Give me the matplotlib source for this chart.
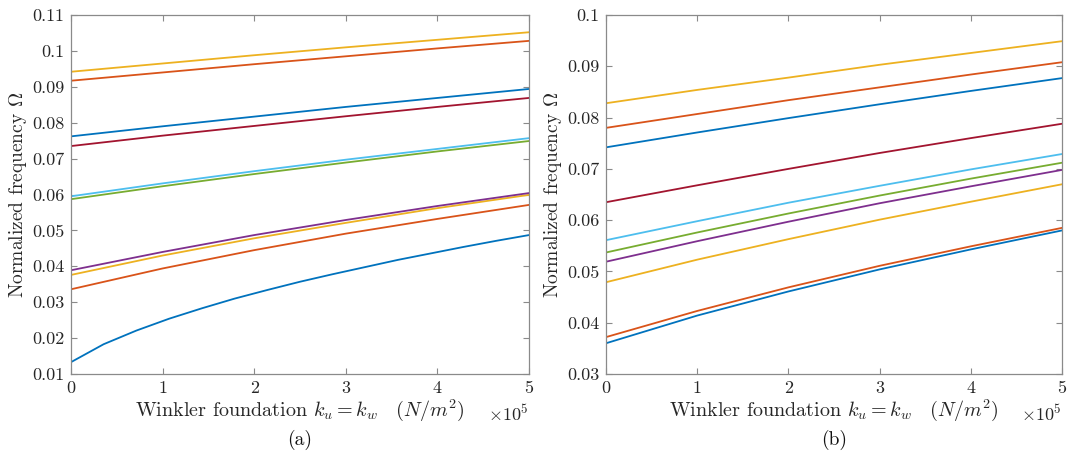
import matplotlib
matplotlib.use("Agg")
import matplotlib.pyplot as plt

plt.rcParams['font.family'] = 'serif'
plt.rcParams['font.serif'] = ['cmr10', 'DejaVu Serif']
plt.rcParams['mathtext.fontset'] = 'cm'
plt.rcParams['axes.formatter.use_mathtext'] = True

# MATLAB default colour order
matlab_colors = ['#0072BD', '#D95319', '#EDB120', '#7E2F8E',
                 '#77AC30', '#4DBEEE', '#A2142F']

# foundation stiffness, in units of 1e5 N/m^2
k_fine = [0, 0.357, 0.714, 1.071, 1.429, 1.786, 2.143, 2.5,
          2.857, 3.214, 3.571, 3.929, 4.286, 4.643, 5]
k_coarse = [0, 1, 2, 3, 4, 5]

# panel (a): lowest mode sampled finely, the rest at integer steps
a_mode1 = [0.0133, 0.0183, 0.0221, 0.0254, 0.0283, 0.0310, 0.0334, 0.0357,
           0.0378, 0.0398, 0.0418, 0.0436, 0.0454, 0.0471, 0.0487]
a_modes = [
    [0.0336, 0.0394, 0.0445, 0.0491, 0.0532, 0.0571],
    [0.0376, 0.0430, 0.0478, 0.0521, 0.0562, 0.0599],
    [0.0389, 0.0440, 0.0487, 0.0529, 0.0568, 0.0604],
    [0.0587, 0.0623, 0.0657, 0.0689, 0.0720, 0.0749],
    [0.0595, 0.0631, 0.0665, 0.0697, 0.0727, 0.0757],
    [0.0735, 0.0764, 0.0791, 0.0818, 0.0844, 0.0869],
    [0.0762, 0.0790, 0.0817, 0.0844, 0.0869, 0.0894],
    [0.0917, 0.0940, 0.0963, 0.0985, 0.1007, 0.1028],
    [0.0942, 0.0965, 0.0988, 0.1010, 0.1031, 0.1052],
]

# panel (b)
b_modes = [
    [0.0360, 0.0414, 0.0461, 0.0504, 0.0543, 0.0580],
    [0.0372, 0.0423, 0.0469, 0.0511, 0.0549, 0.0585],
    [0.0479, 0.0523, 0.0563, 0.0601, 0.0636, 0.0670],
    [0.0519, 0.0559, 0.0597, 0.0633, 0.0666, 0.0698],
    [0.0537, 0.0576, 0.0613, 0.0648, 0.0681, 0.0712],
    [0.0561, 0.0598, 0.0634, 0.0667, 0.0699, 0.0729],
    [0.0635, 0.0668, 0.0700, 0.0731, 0.0760, 0.0788],
    [0.0742, 0.0771, 0.0799, 0.0826, 0.0852, 0.0877],
    [0.0780, 0.0807, 0.0834, 0.0859, 0.0884, 0.0908],
    [0.0828, 0.0854, 0.0878, 0.0903, 0.0926, 0.0949],
]

a_yticks = [0.01, 0.02, 0.03, 0.04, 0.05, 0.06, 0.07, 0.08, 0.09, 0.1, 0.11]
a_ylabels = ['0.01', '0.02', '0.03', '0.04', '0.05', '0.06', '0.07',
             '0.08', '0.09', '0.1', '0.11']
b_yticks = [0.03, 0.04, 0.05, 0.06, 0.07, 0.08, 0.09, 0.1]
b_ylabels = ['0.03', '0.04', '0.05', '0.06', '0.07', '0.08', '0.09', '0.1']
x_ticks = [0, 1, 2, 3, 4, 5]

axis_gray = '#8a8a8a'
text_gray = '#262626'


def style_axes(ax, yticks, ylabels, ylim, panel):
    ax.set_xlim(0, 5)
    ax.set_ylim(*ylim)
    ax.set_xticks(x_ticks)
    ax.set_xticklabels([str(t) for t in x_ticks])
    ax.set_yticks(yticks)
    ax.set_yticklabels(ylabels)
    ax.tick_params(direction='in', top=True, right=True, length=4,
                   width=0.8, color=axis_gray, labelcolor=text_gray,
                   labelsize=13, pad=5)
    for s in ax.spines.values():
        s.set_color(axis_gray)
        s.set_linewidth(0.9)
    ax.set_xlabel(r'Winkler foundation $k_u = k_w\quad(N/m^2)$',
                  fontsize=14.5, color=text_gray, labelpad=1)
    ax.set_ylabel(r'Normalized frequency $\Omega$', fontsize=14,
                  color=text_gray, labelpad=2)
    ax.text(1.0, -0.11, r'$\times 10^5$', transform=ax.transAxes,
            ha='right', va='center', fontsize=13, color=text_gray)
    ax.text(0.5, -0.185, panel, transform=ax.transAxes, ha='center',
            va='center', fontsize=14, color='#111111')


fig = plt.figure(figsize=(10.67, 4.61), dpi=100)
ax_a = fig.add_axes([0.0665, 0.1887, 0.4292, 0.7787])
ax_b = fig.add_axes([0.5680, 0.1887, 0.4274, 0.7787])

lw = 1.3
ax_a.plot(k_fine, a_mode1, color=matlab_colors[0], lw=lw)
for i, vals in enumerate(a_modes):
    ax_a.plot(k_coarse, vals, color=matlab_colors[(i + 1) % 7], lw=lw)

for i, vals in enumerate(b_modes):
    ax_b.plot(k_coarse, vals, color=matlab_colors[i % 7], lw=lw)

style_axes(ax_a, a_yticks, a_ylabels, (0.01, 0.11), '(a)')
style_axes(ax_b, b_yticks, b_ylabels, (0.03, 0.1), '(b)')

fig.savefig('out.png', dpi=100)
